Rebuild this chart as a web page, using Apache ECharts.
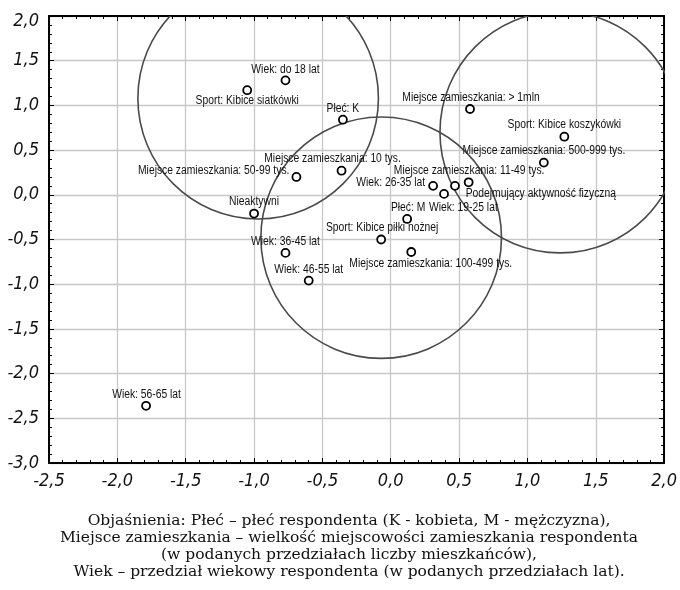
<!DOCTYPE html>
<html>
<head>
<meta charset="utf-8">
<script src="https://cdn.jsdelivr.net/npm/echarts@6/dist/echarts.min.js"></script>
<style>
html,body{margin:0;padding:0;background:#fff;}
#chart{width:680px;height:590px;}
</style>
</head>
<body>
<div id="chart"></div>
<script>
// ---- data ----
const pointLabels = [
  'Wiek: do 18 lat',
  'Sport: Kibice siatkówki',
  'Płeć: K',
  'Miejsce zamieszkania: 10 tys.',
  'Miejsce zamieszkania: 50-99 tys.',
  'Nieaktywni',
  'Wiek: 36-45 lat',
  'Wiek: 46-55 lat',
  'Sport: Kibice piłki nożnej',
  'Płeć: M',
  'Miejsce zamieszkania: 100-499 tys.',
  'Wiek: 26-35 lat',
  'Wiek: 19-25 lat',
  'Miejsce zamieszkania: 11-49 tys.',
  'Podejmujący aktywność fizyczną',
  'Miejsce zamieszkania: > 1mln',
  'Sport: Kibice koszykówki',
  'Miejsce zamieszkania: 500-999 tys.',
  'Wiek: 56-65 lat'
];
const xValues = [-0.77, -1.05, -0.35, -0.36, -0.69, -1.00, -0.77, -0.60, -0.07, 0.12, 0.15, 0.31, 0.39, 0.57, 0.47, 0.58, 1.27, 1.12, -1.79];
const yValues = [1.28, 1.17, 0.84, 0.27, 0.20, -0.21, -0.65, -0.96, -0.50, -0.27, -0.64, 0.10, 0.01, 0.14, 0.10, 0.96, 0.65, 0.36, -2.36];

const circleCx = [-0.97, -0.07, 1.24];
const circleCy = [1.08, -0.48, 0.70];
const circleRx = [0.88, 0.88, 0.88];
const circleRy = [1.35, 1.35, 1.35];

const xTicks = { min: -2.5, max: 2.0, step: 0.5 };
const yTicks = { min: -3.0, max: 2.0, step: 0.5 };

const captionLines = [
  'Objaśnienia: Płeć – płeć respondenta (K - kobieta, M - mężczyzna),',
  'Miejsce zamieszkania – wielkość miejscowości zamieszkania respondenta',
  '(w podanych przedziałach liczby mieszkańców),',
  'Wiek – przedział wiekowy respondenta (w podanych przedziałach lat).'
];

// ---- label layout (pixel offsets from point centre) ----
const labelLayout = [
  {align:'center', dx:0, dy:-11},
  {align:'center', dx:0, dy:10.5},
  {align:'center', dx:0, dy:-11},
  {align:'center', dx:-9, dy:-12},
  {align:'right', dx:-7, dy:-6},
  {align:'center', dx:0, dy:-11.5},
  {align:'center', dx:0, dy:-11},
  {align:'center', dx:0, dy:-11},
  {align:'center', dx:1, dy:-12},
  {align:'center', dx:1, dy:-11},
  {align:'center', dx:19.5, dy:11.6},
  {align:'right', dx:-8, dy:-3},
  {align:'center', dx:19.3, dy:13.7},
  {align:'center', dx:0.5, dy:-12},
  {align:'left', dx:10.7, dy:8},
  {align:'center', dx:1, dy:-11.4},
  {align:'center', dx:0, dy:-11.7},
  {align:'center', dx:0, dy:-12.3},
  {align:'center', dx:0.5, dy:-11}
];

const tickFont = "'DejaVu Sans Condensed', 'DejaVu Sans', sans-serif";
const labelFont = "'Liberation Sans', Arial, sans-serif";
const labelSqueeze = 0.86;

function makeAxis(dim, range, main) {
  return {
    type: 'value',
    min: range.min, max: range.max, interval: range.step,
    position: dim === 'x' ? (main ? 'bottom' : 'top') : (main ? 'left' : 'right'),
    axisLine: { show: true, onZero: false, lineStyle: { color: '#000', width: 2 } },
    axisTick: { show: true, inside: true, length: 5, lineStyle: { color: '#000', width: 1 } },
    minorTick: { show: true, splitNumber: 5, length: 3, lineStyle: { color: '#000', width: 1 } },
    splitLine: { show: main, lineStyle: { color: '#c8c8c8', width: 1.3 } },
    axisLabel: {
      show: main,
      formatter: function (v) {
        const s = v.toFixed(1).replace('.', ',');
        return (dim === 'y' && Math.abs(v - range.max) < 1e-9) ? '{m|' + s + '}' : s;
      },
      rich: { m: { padding: [10, 0, 0, 0], fontFamily: tickFont, fontStyle: 'italic', fontSize: 18, color: '#111' } },
      fontFamily: tickFont, fontStyle: 'italic',
      fontSize: 18, color: '#111', margin: dim === 'x' ? 9 : 10
    }
  };
}

const chart = echarts.init(document.getElementById('chart'), null, { renderer: 'canvas' });

const pointData = pointLabels.map((n, i) => ({ name: n, value: [xValues[i], yValues[i], i] }));
const circleData = circleCx.map((c, i) => [c, circleCy[i], circleRx[i], circleRy[i]]);

chart.setOption({
  animation: false,
  backgroundColor: '#fff',
  grid: { left: 49, right: 13, top: 16, bottom: 127, containLabel: false },
  xAxis: [makeAxis('x', xTicks, true), makeAxis('x', xTicks, false)],
  yAxis: [makeAxis('y', yTicks, true), makeAxis('y', yTicks, false)],
  graphic: [{
    type: 'text',
    x: 349, y: 512,
    style: {
      text: captionLines.join('\n'),
      font: "15.5px 'DejaVu Serif', serif",
      fill: '#111',
      align: 'center',
      verticalAlign: 'top',
      lineHeight: 17.2
    }
  }],
  series: [
    {
      type: 'custom',
      coordinateSystem: 'cartesian2d',
      clip: true,
      z: 2,
      data: circleData,
      renderItem: function (params, api) {
        const c = api.coord([api.value(0), api.value(1)]);
        const s = api.size([api.value(2), api.value(3)]);
        return {
          type: 'ellipse',
          shape: { cx: c[0], cy: c[1], rx: s[0], ry: s[1] },
          style: { fill: null, stroke: '#4a4a4a', lineWidth: 1.6 }
        };
      }
    },
    {
      type: 'scatter',
      z: 3,
      symbol: 'circle',
      symbolSize: 8,
      itemStyle: { color: '#fff', borderColor: '#000', borderWidth: 1.8, opacity: 1 },
      emphasis: { disabled: true },
      data: pointData
    },
    {
      type: 'custom',
      coordinateSystem: 'cartesian2d',
      z: 4,
      silent: true,
      data: pointData,
      renderItem: function (params, api) {
        const i = api.value(2);
        const c = api.coord([api.value(0), api.value(1)]);
        const L = labelLayout[i];
        return {
          type: 'text',
          x: c[0] + L.dx,
          y: c[1] + L.dy,
          scaleX: labelSqueeze,
          style: {
            text: pointLabels[i],
            font: "12px " + labelFont,
            fill: '#111',
            align: L.align,
            verticalAlign: 'middle'
          }
        };
      }
    }
  ]
});
</script>
</body>
</html>
